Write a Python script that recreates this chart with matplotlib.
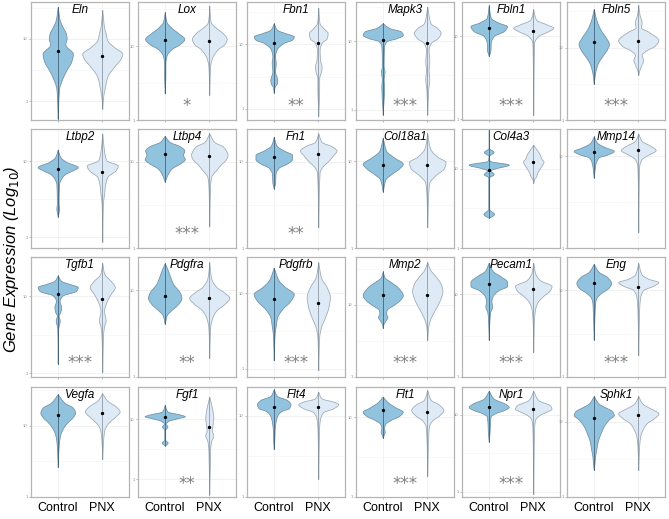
import numpy as np
import matplotlib
matplotlib.use("Agg")
import matplotlib.pyplot as plt
from matplotlib.transforms import blended_transform_factory

plt.rcParams['font.family'] = ['Liberation Sans', 'DejaVu Sans']

# ---------------- data (log10 expression levels, relative density widths) ----------------
genes = ["Eln", "Lox", "Fbn1", "Mapk3", "Fbln1", "Fbln5",
         "Ltbp2", "Ltbp4", "Fn1", "Col18a1", "Col4a3", "Mmp14",
         "Tgfb1", "Pdgfra", "Pdgfrb", "Mmp2", "Pecam1", "Eng",
         "Vegfa", "Fgf1", "Flt4", "Flt1", "Npr1", "Sphk1"]

groups = ["Control", "PNX"]

signif = ["", "*", "**", "***", "***", "***",
          "", "***", "**", "", "", "",
          "***", "**", "***", "***", "***", "***",
          "", "**", "", "***", "***", ""]

ctrl_levels = [
    [-0.28, 0.20, 0.34, 0.50, 0.63, 0.76, 0.91, 1.01, 1.09, 1.19, 1.30, 1.51],
    [0.36, 0.66, 0.77, 0.88, 0.96, 1.03, 1.10, 1.18, 1.25, 1.33, 1.46],
    [0.25, 0.34, 0.40, 0.45, 0.58, 0.71, 0.81, 0.91, 1.02, 1.07, 1.12, 1.17, 1.22, 1.32],
    [-0.07, 0.34, 0.44, 0.56, 0.63, 0.92, 1.00, 1.04, 1.09, 1.14, 1.19, 1.26],
    [0.76, 0.84, 0.92, 1.00, 1.06, 1.12, 1.16, 1.22, 1.37],
    [0.50, 0.65, 0.78, 0.88, 0.98, 1.05, 1.15, 1.25, 1.38, 1.53],
    [0.27, 0.38, 0.44, 0.70, 0.77, 0.83, 0.88, 0.92, 0.99, 1.05, 1.15],
    [0.77, 0.85, 0.92, 0.98, 1.03, 1.08, 1.13, 1.18, 1.23, 1.30],
    [0.69, 0.76, 0.86, 0.93, 0.98, 1.03, 1.08, 1.13, 1.19, 1.29],
    [0.65, 0.79, 0.85, 0.92, 0.97, 1.04, 1.12, 1.27],
    [0.38, 0.43, 0.49, 0.89, 0.93, 0.98, 1.01, 1.05, 1.10, 1.16, 1.21, 1.26, 1.49],
    [0.77, 0.92, 0.99, 1.02, 1.06, 1.10, 1.15, 1.22],
    [0.12, 0.57, 0.64, 0.68, 0.75, 0.80, 0.86, 0.94, 1.01, 1.07, 1.12, 1.16, 1.20, 1.27],
    [0.61, 0.71, 0.77, 0.84, 0.91, 0.97, 1.07, 1.17, 1.24, 1.31],
    [0.11, 0.46, 0.57, 0.68, 0.79, 0.90, 0.99, 1.08, 1.17, 1.34],
    [0.68, 0.73, 0.78, 0.83, 0.88, 0.93, 0.99, 1.06, 1.13, 1.24, 1.31, 1.38, 1.46],
    [0.45, 0.68, 0.78, 0.85, 0.92, 0.98, 1.05, 1.10, 1.15, 1.22, 1.28, 1.38],
    [0.43, 0.75, 0.85, 0.91, 0.96, 1.03, 1.08, 1.15, 1.21, 1.30],
    [0.42, 0.65, 0.78, 0.88, 0.98, 1.05, 1.12, 1.18, 1.25, 1.32, 1.44],
    [0.56, 0.61, 0.66, 0.82, 0.88, 0.93, 0.97, 1.02, 1.05, 1.08, 1.13, 1.24],
    [0.59, 0.72, 0.82, 0.92, 1.01, 1.06, 1.09, 1.14, 1.19, 1.24, 1.32],
    [0.74, 0.77, 0.82, 0.87, 0.92, 0.97, 1.02, 1.07, 1.12, 1.19, 1.26],
    [0.65, 0.79, 0.92, 0.98, 1.02, 1.06, 1.10, 1.14, 1.21, 1.31],
    [0.36, 0.44, 0.54, 0.64, 0.74, 0.84, 0.94, 1.03, 1.09, 1.14, 1.19, 1.24, 1.34],
]
ctrl_density = [
    [0, .03, .09, .195, .30, .34, .17, .20, .18, .11, .045, 0],
    [0, .015, .015, .045, .15, .34, .44, .30, .15, .04, 0],
    [0, .02, .07, .075, .03, .045, .03, .06, .225, .41, .45, .26, .075, 0],
    [0, .03, .02, .04, .02, .03, .09, .30, .45, .41, .15, 0],
    [0, .04, .045, .11, .34, .41, .225, .045, 0],
    [0, .03, .09, .19, .30, .34, .26, .15, .06, 0],
    [0, .03, .02, .03, .075, .165, .34, .45, .19, .06, 0],
    [0, .06, .15, .34, .45, .41, .44, .34, .11, 0],
    [0, .03, .04, .11, .30, .41, .41, .225, .06, 0],
    [0, .06, .19, .375, .45, .26, .075, 0],
    [0, .12, .01, .01, .11, .04, .19, .45, .02, .005, .11, .005, 0],
    [0, .04, .11, .30, .45, .26, .075, 0],
    [0, .01, .03, .045, .02, .06, .075, .04, .11, .41, .45, .26, .075, 0],
    [0, .045, .15, .30, .375, .34, .19, .11, .06, 0],
    [0, .02, .045, .075, .19, .375, .45, .26, .11, 0],
    [0, .015, .06, .105, .075, .09, .225, .375, .45, .34, .19, .04, 0],
    [0, .015, .03, .075, .06, .09, .225, .41, .41, .26, .09, 0],
    [0, .02, .03, .06, .15, .34, .39, .30, .11, 0],
    [0, .015, .03, .06, .135, .225, .34, .39, .34, .15, 0],
    [0, .065, .01, .01, .06, .02, .075, .30, .45, .34, .06, 0],
    [0, .015, .02, .04, .09, .19, .34, .375, .30, .075, 0],
    [0, .015, .045, .03, .06, .19, .375, .45, .30, .11, 0],
    [0, .02, .03, .045, .15, .34, .45, .375, .11, 0],
    [0, .015, .03, .06, .09, .15, .225, .34, .45, .41, .26, .11, 0],
]
pnx_levels = [
    [-0.12, 0.07, 0.23, 0.39, 0.55, 0.68, 0.76, 0.87, 0.98, 1.09, 1.19, 1.46],
    [0.34, 0.73, 0.84, 0.96, 1.03, 1.10, 1.18, 1.25, 1.33, 1.55],
    [-0.11, 0.35, 0.47, 0.58, 0.65, 0.76, 0.91, 1.02, 1.09, 1.17, 1.25, 1.32, 1.56],
    [-0.07, 0.29, 0.44, 0.58, 0.70, 0.87, 0.97, 1.04, 1.12, 1.19, 1.26, 1.50],
    [0.05, 0.92, 1.00, 1.06, 1.10, 1.14, 1.20, 1.32],
    [0.62, 0.68, 0.77, 0.83, 0.90, 0.95, 1.03, 1.10, 1.22, 1.28, 1.35, 1.45, 1.59],
    [-0.06, 0.44, 0.57, 0.68, 0.79, 0.88, 0.94, 1.01, 1.18, 1.36],
    [0.25, 0.73, 0.83, 0.90, 0.97, 1.03, 1.08, 1.13, 1.18, 1.23, 1.33],
    [0.24, 0.88, 0.94, 1.01, 1.08, 1.13, 1.18, 1.23, 1.33],
    [0.24, 0.62, 0.75, 0.84, 0.92, 0.99, 1.05, 1.15, 1.32],
    [0.82, 0.87, 0.90, 0.95, 1.02, 1.09, 1.12, 1.19, 1.24, 1.30],
    [0.17, 0.89, 0.97, 1.02, 1.07, 1.12, 1.17, 1.25],
    [0.01, 0.51, 0.62, 0.68, 0.81, 0.92, 1.03, 1.12, 1.20, 1.29, 1.43],
    [0.22, 0.57, 0.67, 0.76, 0.84, 0.91, 0.97, 1.04, 1.14, 1.32],
    [-0.02, 0.42, 0.55, 0.68, 0.81, 0.95, 1.08, 1.21, 1.41],
    [0.51, 0.69, 0.79, 0.89, 0.99, 1.09, 1.19, 1.29, 1.39, 1.49, 1.59],
    [0.30, 0.68, 0.82, 0.90, 0.98, 1.05, 1.10, 1.17, 1.25, 1.38],
    [0.25, 0.78, 0.91, 1.00, 1.05, 1.09, 1.13, 1.18, 1.31],
    [0.53, 0.75, 0.92, 1.00, 1.07, 1.13, 1.20, 1.27, 1.35, 1.45],
    [-0.26, 0.33, 0.49, 0.63, 0.73, 0.81, 0.92, 1.03, 1.13, 1.24, 1.38],
    [0.22, 0.86, 0.96, 1.04, 1.09, 1.14, 1.17, 1.21, 1.29],
    [0.26, 0.76, 0.89, 0.96, 1.02, 1.09, 1.16, 1.22, 1.34],
    [-0.03, 0.83, 0.94, 1.00, 1.04, 1.08, 1.12, 1.19, 1.31],
    [0.36, 0.68, 0.81, 0.91, 0.98, 1.04, 1.11, 1.18, 1.24, 1.34],
]
pnx_density = [
    [0, .02, .06, .11, .26, .41, .45, .26, .11, .075, .04, 0],
    [0, .02, .06, .19, .34, .39, .30, .15, .03, 0],
    [0, .02, .02, .06, .075, .04, .03, .075, .19, .21, .11, .03, 0],
    [0, .02, .045, .03, .045, .03, .075, .225, .30, .225, .075, 0],
    [0, .02, .11, .34, .45, .30, .06, 0],
    [0, .02, .075, .11, .075, .15, .375, .45, .225, .06, .075, .03, 0],
    [0, .015, .04, .06, .11, .30, .35, .09, .03, 0],
    [0, .02, .045, .15, .26, .375, .41, .375, .30, .11, 0],
    [0, .03, .09, .225, .34, .41, .30, .075, 0],
    [0, .02, .045, .19, .375, .41, .225, .06, 0],
    [0, .02, .06, .09, .165, .23, .19, .135, .075, 0],
    [0, .02, .075, .225, .39, .26, .075, 0],
    [0, .02, .045, .075, .04, .09, .19, .28, .19, .045, 0],
    [0, .02, .06, .15, .34, .45, .34, .15, .04, 0],
    [0, .02, .06, .15, .225, .26, .19, .06, 0],
    [0, .02, .06, .135, .225, .30, .34, .30, .19, .06, 0],
    [0, .015, .04, .09, .225, .375, .41, .15, .045, 0],
    [0, .02, .04, .11, .34, .45, .225, .075, 0],
    [0, .015, .04, .09, .19, .30, .39, .30, .11, 0],
    [0, .015, .02, .04, .09, .06, .075, .09, .075, .045, 0],
    [0, .02, .04, .11, .34, .45, .34, .075, 0],
    [0, .02, .04, .11, .26, .36, .26, .075, 0],
    [0, .02, .045, .15, .30, .41, .375, .11, 0],
    [0, .02, .045, .11, .19, .34, .45, .26, .09, 0],
]
ctrl_median = [0.81, 1.09, 1.01, 1.02, 1.10, 1.08, 0.89, 1.09, 1.05, 0.95, 0.98, 1.05,
               1.03, 0.93, 0.92, 1.13, 1.12, 1.08, 1.15, 1.04, 1.11, 1.09, 1.10, 1.05]
pnx_median = [0.73, 1.07, 1.02, 0.97, 1.06, 1.09, 0.86, 1.07, 1.09, 0.95, 1.08, 1.07,
              0.97, 0.91, 0.87, 1.14, 1.06, 1.04, 1.18, 0.87, 1.11, 1.07, 1.08, 1.09]

y_low = [-0.30, 0.29, -0.17, -0.15, -0.01, 0.45,
         -0.14, 0.19, 0.19, 0.18, 0.31, 0.11,
         -0.05, 0.18, -0.11, 0.46, 0.25, 0.18,
         0.39, -0.30, 0.20, 0.23, -0.07, 0.31]
y_high = [1.59, 1.60, 1.65, 1.57, 1.41, 1.63,
          1.42, 1.38, 1.38, 1.37, 1.50, 1.30,
          1.51, 1.38, 1.48, 1.66, 1.45, 1.38,
          1.54, 1.54, 1.35, 1.38, 1.36, 1.46]

tick_values = [0, 1]
tick_labels = ["1", "10"]

# ---------------- helpers ----------------
def pchip(x, y, xf):
    x = np.asarray(x, float); y = np.asarray(y, float)
    h = np.diff(x); d = np.diff(y) / h
    n = len(x); m = np.zeros(n)
    m[0] = d[0]; m[-1] = d[-1]
    for k in range(1, n - 1):
        if d[k - 1] * d[k] <= 0:
            m[k] = 0.0
        else:
            w1 = 2 * h[k] + h[k - 1]; w2 = h[k] + 2 * h[k - 1]
            m[k] = (w1 + w2) / (w1 / d[k - 1] + w2 / d[k])
    idx = np.clip(np.searchsorted(x, xf) - 1, 0, n - 2)
    t = (xf - x[idx]) / h[idx]
    h00 = 2 * t**3 - 3 * t**2 + 1; h10 = t**3 - 2 * t**2 + t
    h01 = -2 * t**3 + 3 * t**2; h11 = t**3 - t**2
    out = h00 * y[idx] + h10 * h[idx] * m[idx] + h01 * y[idx + 1] + h11 * h[idx] * m[idx + 1]
    return np.clip(out, 0, None)

CTRL_FILL = "#92c3de"
PNX_FILL = "#deebf7"

def violin(ax, xpos, levels, dens, med, fill, edge, linecol):
    yy = np.linspace(levels[0], levels[-1], 400)
    ww = pchip(levels, dens, yy)
    ax.fill_betweenx(yy, xpos - ww, xpos + ww, facecolor=fill, edgecolor=edge,
                     linewidth=0.55, zorder=2)
    ax.plot([xpos, xpos], [levels[0], levels[-1]], color=linecol, lw=0.5, zorder=3)
    ax.plot([xpos], [med], marker="o", ms=1.4, color="black", zorder=4)

# ---------------- layout ----------------
W, H = 669, 519
fig = plt.figure(figsize=(W / 100, H / 100), dpi=100)
col_left = [31, 138, 247, 356, 462, 567]
col_w = 98
rows = [(2, 120), (129, 248), (257, 377), (387, 497)]

for i, g in enumerate(genes):
    r, c = divmod(i, 6)
    top, bot = rows[r]
    ax = fig.add_axes([col_left[c] / W, 1 - bot / H, col_w / W, (bot - top) / H])
    ax.set_xlim(0.4, 2.6)
    ax.set_ylim(y_low[i], y_high[i])
    for tv in tick_values:
        ax.axhline(tv, color="#ececec", lw=0.5, zorder=0)
        ax.axhline(tv + 0.5, color="#f4f4f4", lw=0.4, zorder=0)
    for xv in (1, 2):
        ax.axvline(xv, color="#efefef", lw=0.5, zorder=0)
    violin(ax, 1, ctrl_levels[i], ctrl_density[i], ctrl_median[i], CTRL_FILL, "#6f8ea3", "#34526a")
    violin(ax, 2, pnx_levels[i], pnx_density[i], pnx_median[i], PNX_FILL, "#9aa8b4", "#7d8a95")
    ax.set_yticks(tick_values)
    ax.set_yticklabels(tick_labels)
    ax.tick_params(axis="y", labelsize=3, length=1.5, width=0.4, pad=1, colors="#888888")
    ax.set_xticks([1, 2])
    if r == 3:
        ax.set_xticklabels(groups)
        ax.tick_params(axis="x", labelsize=9, length=1.5, width=0.4, pad=2, labelcolor="black",
                       color="#888888")
    else:
        ax.set_xticklabels([])
        ax.tick_params(axis="x", length=1.5, width=0.4, color="#888888")
    for sp in ax.spines.values():
        sp.set_color("#b5b5b5"); sp.set_linewidth(0.9)
    ax.text(0.5, 0.985, g, transform=ax.transAxes, ha="center", va="top",
            fontsize=8.5, style="italic")
    if signif[i]:
        tr = blended_transform_factory(ax.transData, ax.transAxes)
        ax.text(1.5, 0.12, signif[i], transform=tr, ha="center", va="center",
                fontsize=12, color="#808080", family="DejaVu Sans")

fig.text(12 / W, 0.5, "Gene Expression (Log$_{10}$)", rotation=90, ha="center",
         va="center", fontsize=12, style="italic")

fig.savefig("out.png", dpi=100)
